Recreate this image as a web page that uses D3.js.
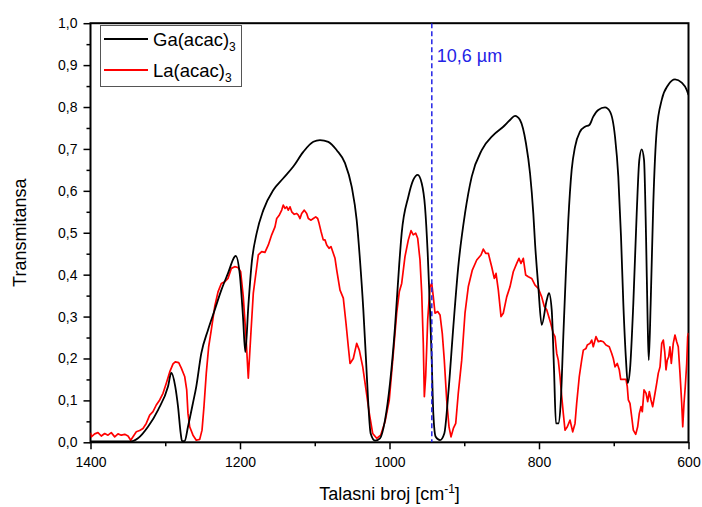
<!DOCTYPE html>
<html>
<head>
<meta charset="utf-8">
<script src="https://cdn.jsdelivr.net/npm/d3@7"></script>
<style>
  html, body { margin: 0; padding: 0; background: #fff; }
  svg { display: block; font-family: "Liberation Sans", Arial, sans-serif; }
</style>
</head>
<body>
<svg id="chart" width="702" height="507"></svg>
<script>
// IR spectra of Ga(acac)3 and La(acac)3, transmittance vs wavenumber
const gaWavenumber = [1400, 1345.8, 1336.5, 1323.1, 1309.7, 1296.3, 1291.9, 1286.6, 1282.9, 1279.3, 1277.6, 1274.0,
  1269.6, 1262.9, 1258.5, 1251.8, 1242.8, 1233.8, 1225.0, 1216.1, 1207.1, 1205.8, 1200.4, 1196.0, 1192.9,
  1188.9, 1184.4, 1177.7, 1168.8, 1155.4, 1142.1, 1128.7, 1115.3, 1101.9, 1093.0, 1081.9, 1070.6, 1059.5,
  1050.6, 1043.9, 1039.5, 1035.0, 1031.4, 1028.4, 1025.2, 1019.4, 1012.7, 1006.0, 999.3, 992.6, 986.9,
  983.7, 974.8, 968.2, 962.3, 956.9, 952.5, 948.9, 945.8, 943.5, 941.4, 938.2, 932.4, 926.7, 921.3, 914.6,
  908.0, 899.0, 890.0, 876.6, 861.1, 847.8, 838.8, 832.1, 825.4, 817.4, 812.0, 807.6, 805.3, 800.9, 796.4,
  789.7, 786.6, 783.0, 779.9, 777.3, 774.2, 771.0, 767.5, 763.9, 760.8, 756.3, 751.8, 745.2, 738.5, 732.7,
  727.4, 720.7, 711.7, 705.0, 698.3, 693.9, 690.3, 687.2, 683.6, 681.3, 678.3, 673.8, 669.3, 665.8, 662.6,
  659.5, 656.8, 654.6, 653.2, 650.6, 647.1, 642.5, 635.8, 627.0, 618.0, 609.1, 602.4, 600];
const gaTransmittance = [0.002, 0.002, 0.0095, 0.037, 0.077, 0.133, 0.166, 0.133, 0.085, 0.021, 0.003, 0.003,
  0.037, 0.094, 0.133, 0.212, 0.268, 0.316, 0.363, 0.403, 0.443, 0.445, 0.403, 0.300, 0.215,
  0.324, 0.427, 0.499, 0.554, 0.602, 0.630, 0.658, 0.693, 0.717, 0.721, 0.717, 0.697, 0.666,
  0.610, 0.530, 0.435, 0.316, 0.196, 0.093, 0.021, 0.004, 0.0095, 0.053, 0.141, 0.276, 0.427,
  0.499, 0.586, 0.626, 0.638, 0.618, 0.562, 0.451, 0.316, 0.196, 0.069, 0.013, 0.005, 0.021, 0.117, 0.276,
  0.419, 0.546, 0.634, 0.697, 0.733, 0.753, 0.769, 0.779, 0.769, 0.713, 0.642, 0.546, 0.475, 0.371, 0.280,
  0.339, 0.356, 0.316, 0.173, 0.045, 0.045, 0.093, 0.252, 0.411, 0.530, 0.650, 0.705, 0.741, 0.753, 0.757,
  0.777, 0.793, 0.799, 0.789, 0.729, 0.634, 0.491, 0.332, 0.196, 0.141, 0.173, 0.332, 0.546, 0.674, 0.699,
  0.674, 0.491, 0.284, 0.196, 0.332, 0.570, 0.745, 0.817, 0.853, 0.866, 0.858, 0.841, 0.829];

const laWavenumber = [1400, 1398.9, 1394.4, 1390.0, 1385.6, 1381.0, 1376.6, 1372.2, 1367.6, 1363.2, 1358.8, 1354.2,
  1349.8, 1346.2, 1341.8, 1338.7, 1334.2, 1329.8, 1325.4, 1320.8, 1316.4, 1312.0, 1307.4, 1303.0, 1298.6,
  1294.0, 1289.6, 1286.6, 1282.0, 1278.5, 1274.0, 1271.3, 1269.6, 1267.3, 1262.9, 1258.5, 1253.9, 1250.8,
  1248.2, 1245.1, 1241.9, 1238.4, 1233.8, 1229.4, 1225.0, 1220.5, 1216.1, 1211.6, 1207.1, 1202.7, 1199.1,
  1195.6, 1192.0, 1188.9, 1185.7, 1182.2,
  1175.5, 1171.0, 1166.6, 1162.1, 1157.6, 1153.2, 1150.9, 1147.8, 1144.2, 1142.1,
  1139.8, 1137.5, 1135.4, 1133.1, 1130.8, 1127.4, 1124.1, 1122.0, 1119.7, 1117.5,
  1114.0, 1110.8, 1108.6, 1105.0, 1101.9, 1098.7, 1096.1, 1094.3, 1091.6, 1088.6,
  1086.3, 1084.0, 1080.9, 1078.3, 1075.2, 1072.9,
  1070.6, 1066.2, 1061.8, 1058.2, 1055.1, 1052.8, 1048.4, 1043.9, 1040.4,
  1035.8, 1031.4, 1027.0, 1022.5, 1017.1, 1011.8, 1006.0, 1000.3, 994.9, 990.4, 986.9, 983.7, 979.3, 974.8,
  971.2, 968.2, 965.0, 962.3, 959.2, 956.9, 954.8, 953.4, 951.6, 948.9, 945.8, 943.5, 941.4, 939.1, 935.5,
  932.4, 929.4, 926.7, 923.5, 920.4, 917.7, 914.6, 911.4, 908.0, 903.4, 899.0, 894.6, 889.2, 883.3, 877.6,
  874.5, 871.3, 867.8, 863.3, 859.8, 857.5, 854.4, 850.8, 847.8, 843.2, 838.8, 834.4, 829.8, 826.8, 824.1,
  821.0, 817.8, 814.3, 809.8, 805.3, 800.9, 796.4, 792.9, 789.7, 784.3, 780.9, 778.6, 776.3, 774.2, 771.9,
  769.6, 767.5, 765.2, 762.1,
  758.5, 754.9, 751.8, 749.6, 746.1, 742.9, 740.7, 737.1, 735.4, 731.8,
  729.5, 727.4, 723.8, 720.7, 717.5, 714.0, 710.4, 706.0, 702.7, 700.6,
  698.3, 695.3, 692.6, 690.7, 686.3, 683.6, 681.9, 680.5, 678.3, 676.0,
  673.8, 670.6, 668.0, 665.8, 663.5, 661.8, 659.5, 656.8, 654.6, 652.4,
  650.2, 647.9, 644.8, 642.5, 640.4, 638.1, 635.8, 633.7, 631.8, 630.1,
  628.4, 626.5, 624.8, 623.0, 620.4, 618.1, 615.8, 613.7, 611.4, 609.1,
  607.7, 606.0, 604.3, 602.4, 601.1, 600];
const laTransmittance = [0.023, 0.013, 0.020, 0.023, 0.015, 0.021, 0.017, 0.023, 0.013, 0.020, 0.017, 0.019,
  0.015, 0.005, 0.017, 0.025, 0.028, 0.033, 0.045, 0.065, 0.073, 0.089, 0.101, 0.117, 0.141,
  0.168, 0.187, 0.192, 0.190, 0.177, 0.157, 0.125, 0.069, 0.037, 0.017, 0.005, 0.007, 0.029,
  0.085, 0.165, 0.228, 0.268, 0.324, 0.359, 0.379, 0.383, 0.391, 0.415, 0.419, 0.417, 0.407,
  0.347, 0.252, 0.153, 0.252, 0.356,
  0.447, 0.455, 0.453, 0.471, 0.495, 0.514, 0.534, 0.541, 0.554, 0.566,
  0.558, 0.562, 0.554, 0.562, 0.550, 0.544, 0.546, 0.542, 0.534, 0.546,
  0.554, 0.546, 0.534, 0.530, 0.534, 0.538, 0.534, 0.523, 0.503, 0.483,
  0.483, 0.471, 0.463, 0.467, 0.451, 0.439,
  0.411, 0.363, 0.344, 0.284, 0.228, 0.188, 0.200, 0.236, 0.220,
  0.180, 0.125, 0.069, 0.021, 0.0095, 0.017, 0.049, 0.101, 0.212, 0.308, 0.359, 0.379, 0.443, 0.483,
  0.505, 0.495, 0.499, 0.487, 0.435, 0.356, 0.236, 0.109, 0.157, 0.292, 0.371, 0.379, 0.347, 0.308, 0.312,
  0.304, 0.260, 0.196, 0.101, 0.037, 0.013, 0.033, 0.045, 0.117, 0.196, 0.308, 0.371, 0.411, 0.435, 0.447,
  0.461, 0.451, 0.451, 0.419, 0.391, 0.403, 0.363, 0.300, 0.308, 0.347, 0.371, 0.407, 0.427, 0.439, 0.427,
  0.439, 0.399, 0.395, 0.391, 0.375, 0.367, 0.347, 0.324, 0.316, 0.284, 0.260, 0.252, 0.212, 0.196, 0.157,
  0.109, 0.069, 0.029, 0.037,
  0.053, 0.025, 0.045, 0.093, 0.157, 0.196, 0.220, 0.224, 0.232, 0.236,
  0.244, 0.228, 0.252, 0.240, 0.242, 0.240, 0.232, 0.228, 0.212, 0.200,
  0.180, 0.188, 0.173, 0.150, 0.150, 0.150, 0.133, 0.101, 0.093, 0.061,
  0.029, 0.019, 0.037, 0.069, 0.085, 0.073, 0.125, 0.117, 0.097, 0.121,
  0.101, 0.085, 0.117, 0.141, 0.165, 0.180, 0.236, 0.244, 0.216, 0.173,
  0.196, 0.204, 0.228, 0.188, 0.236, 0.256, 0.240, 0.228, 0.165, 0.093,
  0.037, 0.093, 0.133, 0.188, 0.252, 0.261];

const xTicks = [1400, 1200, 1000, 800, 600];
const xMinorTicks = [1300, 1100, 900, 700];
const yTicks = [0, 0.1, 0.2, 0.3, 0.4, 0.5, 0.6, 0.7, 0.8, 0.9, 1.0];
const yMinorTicks = [0.05, 0.15, 0.25, 0.35, 0.45, 0.55, 0.65, 0.75, 0.85, 0.95];
const laserWavenumber = 10000 / 10.6;

const svg = d3.select("#chart");
const margin = { left: 90.5, right: 13.5, top: 23.2, bottom: 64.7 };
const W = 702, H = 507;
const x = d3.scaleLinear().domain([1400, 600]).range([margin.left, W - margin.right]);
const y = d3.scaleLinear().domain([0, 1]).range([H - margin.bottom, margin.top]);

svg.append("clipPath").attr("id", "plotClip").append("rect")
  .attr("x", margin.left).attr("y", margin.top)
  .attr("width", W - margin.left - margin.right).attr("height", H - margin.top - margin.bottom);

const fmt = d => d3.format(".1f")(d).replace(".", ",");

// Axes (outward ticks)
const xAxis = svg.append("g").attr("transform", `translate(0,${y(0)})`)
  .call(d3.axisBottom(x).tickValues(xTicks).tickSize(7).tickSizeOuter(0).tickFormat(d3.format("d")));
svg.append("g").attr("transform", `translate(0,${y(0)})`)
  .call(d3.axisBottom(x).tickValues(xMinorTicks).tickSize(4).tickSizeOuter(0).tickFormat(""))
  .select(".domain").remove();
const yAxis = svg.append("g").attr("transform", `translate(${x(1400)},0)`)
  .call(d3.axisLeft(y).tickValues(yTicks).tickSize(7).tickSizeOuter(0).tickFormat(fmt));
svg.append("g").attr("transform", `translate(${x(1400)},0)`)
  .call(d3.axisLeft(y).tickValues(yMinorTicks).tickSize(4).tickSizeOuter(0).tickFormat(""))
  .select(".domain").remove();

svg.selectAll(".tick line").attr("stroke", "#000").attr("stroke-width", 1.5);
xAxis.selectAll(".tick text").attr("font-size", 14).attr("dy", "1.05em").attr("fill", "#000");
yAxis.selectAll(".tick text").attr("font-size", 14).attr("dx", "-3").attr("fill", "#000");
svg.selectAll(".domain").remove();

// Frame
svg.append("rect")
  .attr("x", x(1400)).attr("y", y(1))
  .attr("width", x(600) - x(1400)).attr("height", y(0) - y(1))
  .attr("fill", "none").attr("stroke", "#000").attr("stroke-width", 2);

// Spectra
const plot = svg.append("g").attr("clip-path", "url(#plotClip)");
const gaData = gaWavenumber.map((w, i) => [w, gaTransmittance[i]]);
const laData = laWavenumber.map((w, i) => [w, laTransmittance[i]]);

plot.append("path").datum(laData)
  .attr("fill", "none").attr("stroke", "#ff0000").attr("stroke-width", 1.7)
  .attr("stroke-linejoin", "round")
  .attr("d", d3.line().x(d => x(d[0])).y(d => y(d[1])));

plot.append("path").datum(gaData)
  .attr("fill", "none").attr("stroke", "#000").attr("stroke-width", 1.8)
  .attr("d", d3.line().curve(d3.curveMonotoneX).x(d => x(d[0])).y(d => y(d[1])));

// CO2 laser line marker
plot.append("line")
  .attr("x1", x(laserWavenumber)).attr("x2", x(laserWavenumber))
  .attr("y1", y(1)).attr("y2", y(0))
  .attr("stroke", "#2323e6").attr("stroke-width", 1.5).attr("stroke-dasharray", "5,3");
svg.append("text")
  .attr("x", x(laserWavenumber) + 5).attr("y", 61.5)
  .attr("font-size", 18).attr("fill", "#2323e6")
  .text("10,6 \u00b5m");

// Legend
const legend = svg.append("g");
legend.append("rect").attr("x", 100.5).attr("y", 25.5).attr("width", 141).attr("height", 61)
  .attr("fill", "#fff").attr("stroke", "#555").attr("stroke-width", 1);
const items = [
  { name: "Ga(acac)", color: "#000", yy: 39 },
  { name: "La(acac)", color: "#ff0000", yy: 70 }
];
items.forEach(it => {
  legend.append("line").attr("x1", 104).attr("x2", 148).attr("y1", it.yy).attr("y2", it.yy)
    .attr("stroke", it.color).attr("stroke-width", 1.8);
  const t = legend.append("text").attr("x", 153).attr("y", it.yy + 7)
    .attr("font-size", 18.5).attr("fill", "#000");
  t.append("tspan").text(it.name);
  t.append("tspan").attr("font-size", 12).attr("dy", 5).text("3");
});

// Axis titles
const xt = svg.append("text")
  .attr("x", (x(1400) + x(600)) / 2).attr("y", 500)
  .attr("text-anchor", "middle").attr("font-size", 18).attr("fill", "#000");
xt.append("tspan").text("Talasni broj [cm");
xt.append("tspan").attr("font-size", 12).attr("dy", -7).text("-1");
xt.append("tspan").attr("dy", 7).text("]");

svg.append("text")
  .attr("transform", `translate(26,${(y(0) + y(1)) / 2}) rotate(-90)`)
  .attr("text-anchor", "middle").attr("font-size", 18).attr("fill", "#000")
  .text("Transmitansa");
</script>
</body>
</html>
